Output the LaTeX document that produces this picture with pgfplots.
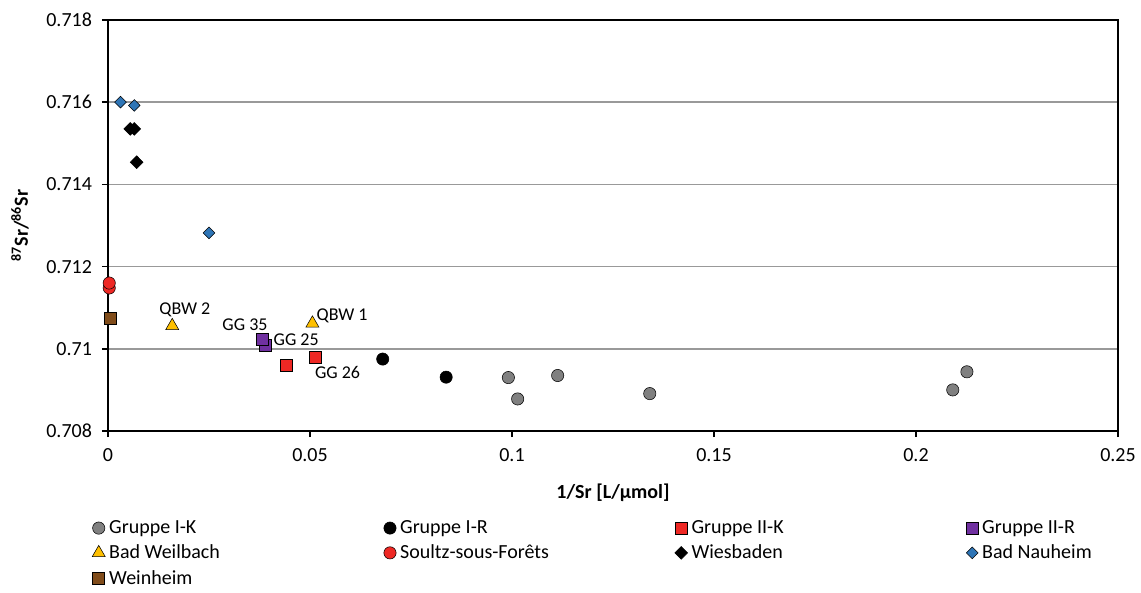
\documentclass[border=0pt]{standalone}
\usepackage{pgfplots}
\pgfplotsset{compat=1.18}
\usepackage{fontspec}
\setmainfont{Carlito}

\definecolor{cGray}{RGB}{128,128,128}
\definecolor{cRed}{RGB}{238,40,36}
\definecolor{cPurple}{RGB}{112,48,160}
\definecolor{cGold}{RGB}{255,192,0}
\definecolor{cBlue}{RGB}{46,117,182}
\definecolor{cBrown}{RGB}{128,76,26}
\definecolor{cEdge}{RGB}{40,40,40}

\begin{document}
\begin{tikzpicture}
% page frame: 1141 x 592 px at 0.75pt per px, axis box at the origin
\useasboundingbox (-81pt,-120.75pt) rectangle (774.75pt,323.25pt);
\begin{axis}[
  at={(0,0)}, anchor=south west,
  scale only axis, width=757.5pt, height=308.25pt,
  xmin=0, xmax=0.25, ymin=0.708, ymax=0.718,
  xtick={0,0.05,0.1,0.15,0.2,0.25},
  ytick={0.708,0.71,0.712,0.714,0.716,0.718},
  scaled ticks=false,
  xticklabel style={/pgf/number format/.cd, fixed, precision=2, assume math mode=true, /tikz/.cd, yshift=-5pt},
  yticklabel style={/pgf/number format/.cd, fixed, precision=3, assume math mode=true, /tikz/.cd, xshift=-4pt},
  tick label style={font=\fontsize{15}{17}\selectfont, black},
  tick pos=left, tick align=outside, major tick length=4.5pt,
  tick style={black, line width=1.2pt},
  axis line style={black, line width=1.5pt},
  ymajorgrids, grid style={gray!80, line width=1.1pt},
  clip=false,
  every axis x label/.style={at={(axis description cs:0.5,0)}, anchor=center, yshift=-46.5pt},
  every axis y label/.style={at={(axis description cs:-0.0871,0.5)}, rotate=90, anchor=center},
  xlabel={\fontsize{15}{17}\selectfont\bfseries 1/Sr [L/µmol]},
  ylabel={\fontsize{15}{17}\selectfont\bfseries \textsuperscript{87}Sr/\textsuperscript{86}Sr},
  legend image code/.code={\draw[#1] plot coordinates {(0cm,0cm)};},
  legend columns=4,
  legend style={
    at={(0,0)}, anchor=north west, xshift=-15pt, yshift=-63pt,
    draw=none, fill=none, font=\fontsize{15}{17}\selectfont,
    row sep=3pt,
    nodes={text width=204pt, align=flush left, inner xsep=2pt},
    /tikz/every odd column/.append style={column sep=1pt},
  },
  legend cell align=left,
  every axis plot/.append style={only marks, mark options={draw=cEdge, line width=0.6pt}},
]
% Gruppe I-K
\addplot[mark=*, mark size=4.6pt, mark options={fill=cGray}] coordinates {
  (0.0991,0.70930) (0.1014,0.70878) (0.1113,0.70935)
  (0.1341,0.70891) (0.2091,0.70900) (0.2126,0.70944)};
\addlegendentry{Gruppe I-K}
% Gruppe I-R
\addplot[mark=*, mark size=4.6pt, mark options={fill=black, draw=black}] coordinates {
  (0.0680,0.70975) (0.0837,0.70931)};
\addlegendentry{Gruppe I-R}
% Gruppe II-K
\addplot[mark=square*, mark size=4.5pt, mark options={fill=cRed}] coordinates {
  (0.0442,0.70961) (0.0514,0.70979)};
\addlegendentry{Gruppe II-K}
% Gruppe II-R
\addplot[mark=square*, mark size=4.5pt, mark options={fill=cPurple}] coordinates {
  (0.0389,0.71009) (0.0383,0.71024)};
\addlegendentry{Gruppe II-R}
% Bad Weilbach
\addplot[mark=triangle*, mark size=5.6pt, mark options={fill=cGold}] coordinates {
  (0.0159,0.71056) (0.0506,0.71062)};
\addlegendentry{Bad Weilbach}
% Soultz-sous-Forets
\addplot[mark=*, mark size=4.6pt, mark options={fill=cRed}] coordinates {
  (0.0003,0.71148) (0.0003,0.71160)};
\addlegendentry{Soultz-sous-Forêts}
% Wiesbaden
\addplot[mark=diamond*, mark size=4.8pt, mark options={fill=black, draw=black, xscale=1.33}] coordinates {
  (0.0055,0.71535) (0.0065,0.71535) (0.0071,0.71454)};
\addlegendentry{Wiesbaden}
% Bad Nauheim
\addplot[mark=diamond*, mark size=4.4pt, mark options={fill=cBlue, xscale=1.33}] coordinates {
  (0.0031,0.71600) (0.0065,0.71592) (0.0250,0.71282)};
\addlegendentry{Bad Nauheim}
% Weinheim
\addplot[mark=square*, mark size=4.5pt, mark options={fill=cBrown}] coordinates {
  (0.0005,0.71074)};
\addlegendentry{Weinheim}

% sample labels
\begin{scope}[every node/.style={font=\fontsize{13.5}{15}\selectfont, inner sep=0pt}]
\node[xshift=9.5pt, yshift=11.8pt] at (axis cs:0.0159,0.71056) {QBW 2};
\node[xshift=22.3pt, yshift=5.3pt] at (axis cs:0.0506,0.71062) {QBW 1};
\node[xshift=-13.3pt, yshift=10.5pt] at (axis cs:0.0383,0.71024) {GG 35};
\node[xshift=23.3pt, yshift=3.8pt] at (axis cs:0.0389,0.71009) {GG 25};
\node[xshift=16.4pt, yshift=-11pt] at (axis cs:0.0514,0.70979) {GG 26};
\end{scope}
\end{axis}
\end{tikzpicture}
\end{document}
